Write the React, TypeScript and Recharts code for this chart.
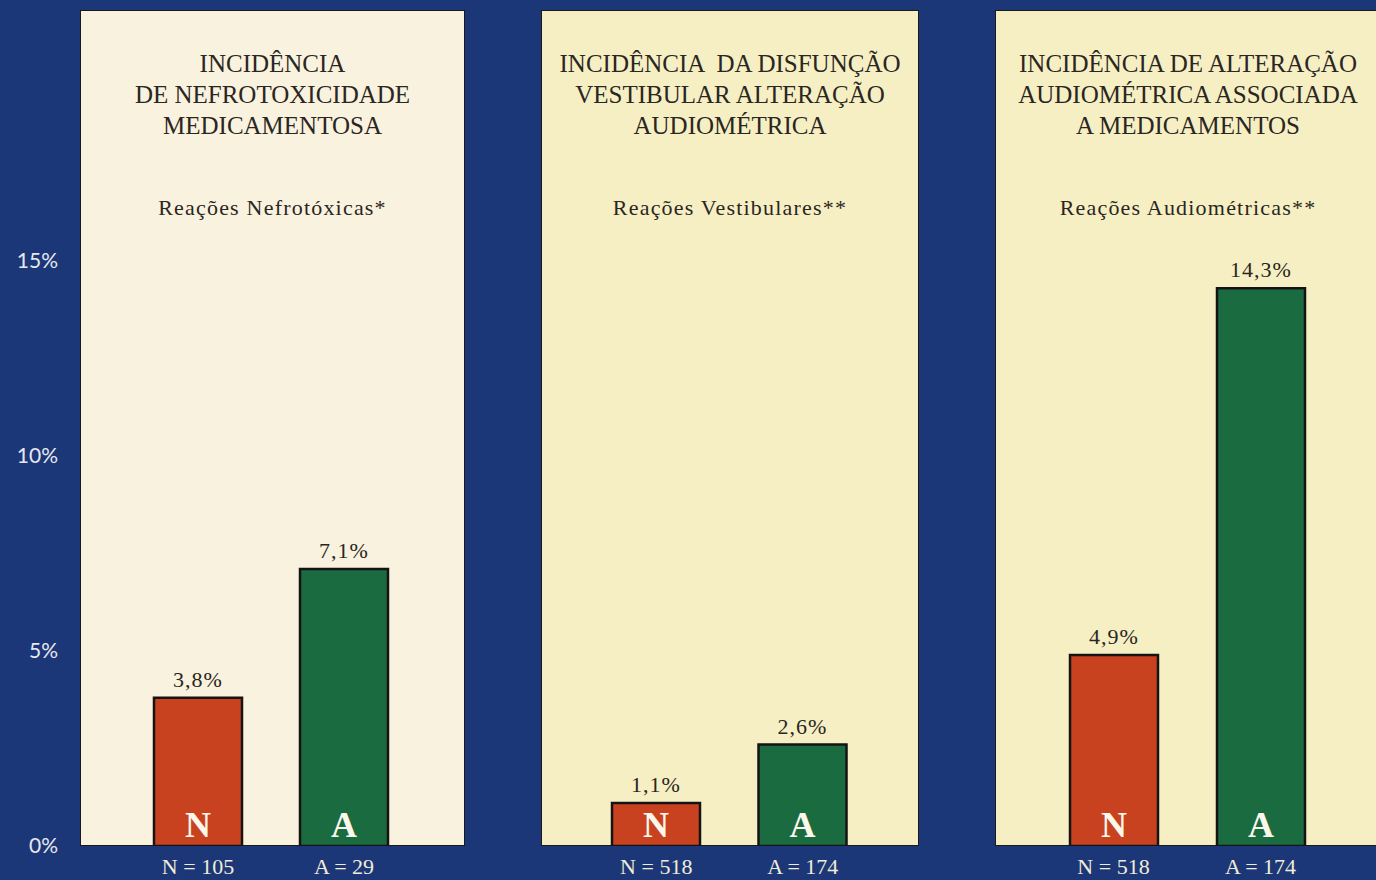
import { BarChart, Bar, XAxis, YAxis, Cell, LabelList } from "recharts";

// grupos: N = normal, A = alterado
const groups = ["N", "A"];

const nefroValues = [3.8, 7.1];
const nefroCounts = [105, 29];

const vestValues = [1.1, 2.6];
const vestCounts = [518, 174];

const audioValues = [4.9, 14.3];
const audioCounts = [518, 174];

const yTicks = [0, 5, 10, 15];
const Y_MAX = 20;

const NAVY = "#1c3777";
const RED = "#c9421f";
const GREEN = "#1b6b41";
const INK = "#2a2622";
const SERIF = "'Liberation Serif', 'DejaVu Serif', serif";

const PLOT_TOP = 66;
const BASE = 846;
const H = 880;

const fmt = (v: unknown) => `${String(v).replace(".", ",")}%`;

type PanelProps = {
  left: number;
  width: number;
  bg: string;
  title: string[];
  subtitle: string;
  values: number[];
  counts: number[];
  padLeft: number;
  padRight: number;
  withAxis?: boolean;
};

function Panel({
  left,
  width,
  bg,
  title,
  subtitle,
  values,
  counts,
  padLeft,
  padRight,
  withAxis,
}: PanelProps) {
  const data = groups.map((g, i) => ({
    group: g,
    value: values[i],
    label: `${g} = ${counts[i]}`,
  }));
  const axisW = withAxis ? 80 : 0;

  return (
    <>
      <div
        style={{
          position: "absolute",
          left,
          top: 10,
          width,
          height: BASE - 10,
          background: bg,
          border: "1.5px solid #1a1a1a",
          boxSizing: "border-box",
        }}
      >
        <div
          style={{
            position: "absolute",
            top: 37,
            left: -20,
            right: -20,
            textAlign: "center",
            fontFamily: SERIF,
            fontSize: 25,
            lineHeight: "31px",
            color: INK,
            whiteSpace: "pre",
          }}
        >
          {title.map((t) => (
            <div key={t}>{t}</div>
          ))}
        </div>
        <div
          style={{
            position: "absolute",
            top: 184,
            left: 0,
            right: 0,
            textAlign: "center",
            fontFamily: SERIF,
            fontSize: 22,
            letterSpacing: 1.2,
            color: INK,
          }}
        >
          {subtitle}
        </div>
      </div>
      <div style={{ position: "absolute", left: left - axisW, top: 0 }}>
        <BarChart
          width={width + axisW}
          height={H}
          data={data}
          margin={{ top: PLOT_TOP, right: 0, bottom: 0, left: 0 }}
          barSize={88}
        >
          <XAxis
            dataKey="label"
            height={H - BASE}
            padding={{ left: padLeft, right: padRight }}
            axisLine={false}
            tickLine={false}
            tickMargin={6}
            tick={{ fill: "#f1ecd8", fontFamily: SERIF, fontSize: 22 }}
          />
          <YAxis
            hide={!withAxis}
            width={axisW}
            domain={[0, Y_MAX]}
            ticks={yTicks}
            allowDataOverflow
            axisLine={false}
            tickLine={false}
            tickMargin={16}
            tickFormatter={(v) => `${v}%`}
            tick={{ fill: "#e6e8f0", fontFamily: "Lato, sans-serif", fontSize: 21 }}
          />
          <Bar
            dataKey="value"
            stroke="#141414"
            strokeWidth={2.5}
            isAnimationActive={false}
          >
            {data.map((d) => (
              <Cell key={d.group} fill={d.group === "N" ? RED : GREEN} />
            ))}
            <LabelList
              dataKey="value"
              position="top"
              offset={11}
              formatter={fmt}
              fill={INK}
              fontFamily={SERIF}
              fontSize={22}
              letterSpacing={1}
            />
            <LabelList
              dataKey="group"
              position="insideBottom"
              offset={9}
              fill="#fbf7ea"
              fontFamily={SERIF}
              fontWeight="bold"
              fontSize={36}
            />
          </Bar>
        </BarChart>
      </div>
    </>
  );
}

export default function App() {
  return (
    <div
      style={{
        position: "fixed",
        left: 0,
        top: 0,
        width: 1376,
        height: H,
        background: NAVY,
        overflow: "hidden",
      }}
    >
      <Panel
        left={80}
        width={385}
        bg="#f9f2de"
        title={["INCIDÊNCIA", "DE NEFROTOXICIDADE", "MEDICAMENTOSA"]}
        subtitle="Reações Nefrotóxicas*"
        values={nefroValues}
        counts={nefroCounts}
        padLeft={45}
        padRight={48}
        withAxis
      />
      <Panel
        left={541}
        width={378}
        bg="#f6efc4"
        title={["INCIDÊNCIA  DA DISFUNÇÃO", "VESTIBULAR ALTERAÇÃO", "AUDIOMÉTRICA"]}
        subtitle="Reações Vestibulares**"
        values={vestValues}
        counts={vestCounts}
        padLeft={42}
        padRight={43}
      />
      <Panel
        left={995}
        width={386}
        bg="#f6efc4"
        title={["INCIDÊNCIA DE ALTERAÇÃO", "AUDIOMÉTRICA ASSOCIADA", "A MEDICAMENTOS"]}
        subtitle="Reações Audiométricas**"
        values={audioValues}
        counts={audioCounts}
        padLeft={45}
        padRight={47}
      />
    </div>
  );
}
